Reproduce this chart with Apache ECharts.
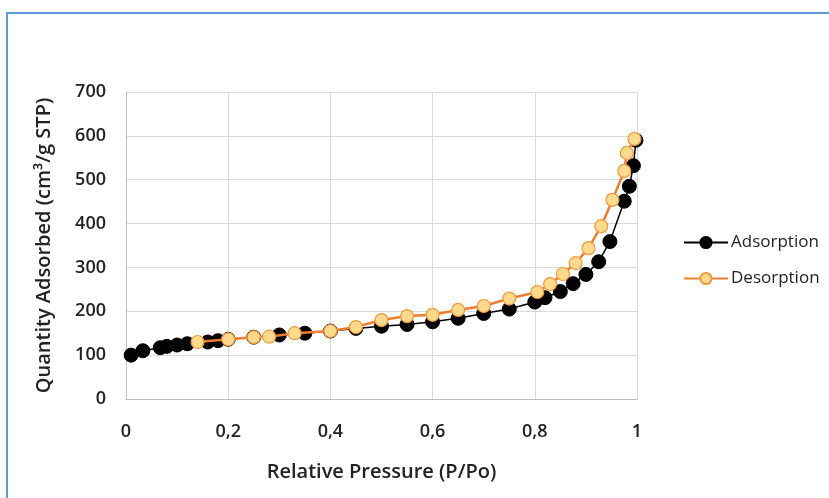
<!DOCTYPE html>
<html>
<head>
<meta charset="utf-8">
<script src="https://cdn.jsdelivr.net/npm/echarts@6/dist/echarts.min.js"></script>
<style>
  html, body { margin: 0; padding: 0; background: #fff; }
  #main { width: 829px; height: 498px; }
</style>
</head>
<body>
<div id="main"></div>
<script>
  // isotherm data
  const adsP = [0.01, 0.033, 0.067, 0.08, 0.1, 0.12, 0.16, 0.18, 0.2, 0.25, 0.3, 0.35, 0.4, 0.45, 0.5, 0.55, 0.6, 0.65, 0.7, 0.75, 0.8, 0.82, 0.85, 0.875, 0.9, 0.925, 0.947, 0.975, 0.985, 0.993, 0.998];
  const adsQ = [100, 110, 117, 120, 123, 126, 130, 133, 136, 141, 146, 150, 155, 161, 166, 170, 176, 184, 195, 205, 221, 231, 245, 263, 284, 313, 359, 451, 485, 532, 590];
  const desP = [0.995, 0.98, 0.975, 0.952, 0.93, 0.905, 0.88, 0.855, 0.83, 0.805, 0.75, 0.7, 0.65, 0.6, 0.55, 0.5, 0.45, 0.4, 0.33, 0.28, 0.25, 0.2, 0.14];
  const desQ = [593, 561, 520, 454, 394, 344, 310, 285, 262, 244, 229, 212, 203, 192, 189, 180, 164, 155, 150, 142, 141, 136, 130];
  const xTicks = ['0', '0,2', '0,4', '0,6', '0,8', '1'];

  const pairs = (xs, ys) => xs.map((x, i) => [x, ys[i]]);
  const font = 'Open Sans';

  let option = {
    animation: false,
    textStyle: { fontFamily: font },
    graphic: [
      {
        type: 'rect',
        shape: { x: 7, y: 13, width: 900, height: 600 },
        style: { fill: 'none', stroke: '#5B9BD5', lineWidth: 2 },
      },
    ],
    legend: {
      orient: 'vertical',
      left: 678,
      top: 229,
      itemGap: 19,
      itemWidth: 44,
      itemHeight: 14,
      textStyle: { fontFamily: font, fontSize: 17, color: '#222', padding: [0, 0, 0, -2] },
      data: ['Adsorption', 'Desorption'],
    },
    grid: {
      left: 126,
      right: 192,
      top: 92,
      bottom: 99,
    },
    xAxis: {
      type: 'value',
      min: 0,
      max: 1,
      interval: 0.2,
      name: 'Relative Pressure (P/Po)',
      nameLocation: 'middle',
      nameGap: 63,
      nameTextStyle: { fontFamily: font, fontSize: 20, fontWeight: 600, color: '#222' },
      axisLine: { lineStyle: { color: '#BFBFBF' } },
      axisTick: { show: false },
      axisLabel: {
        margin: 24,
        fontSize: 18,
        fontWeight: 600,
        color: '#222',
        formatter: (v) => xTicks[Math.round(v * 5)],
      },
      splitLine: { show: true, lineStyle: { color: '#D9D9D9' } },
    },
    yAxis: {
      type: 'value',
      min: 0,
      max: 700,
      interval: 100,
      name: 'Quantity Adsorbed (cm³/g STP)',
      nameLocation: 'middle',
      nameGap: 72,
      nameTextStyle: { fontFamily: font, fontSize: 20, fontWeight: 600, color: '#222' },
      axisLine: { show: true, lineStyle: { color: '#BFBFBF' } },
      axisTick: { show: false },
      axisLabel: { margin: 20, fontSize: 18, fontWeight: 600, color: '#222' },
      splitLine: { lineStyle: { color: '#D9D9D9' } },
    },
    series: [
      {
        name: 'Adsorption',
        type: 'line',
        data: pairs(adsP, adsQ),
        symbol: 'circle',
        symbolSize: 14,
        lineStyle: { color: '#000', width: 1.5 },
        itemStyle: { color: '#000', borderColor: '#000', borderWidth: 1 },
        z: 2,
      },
      {
        name: 'Desorption',
        type: 'line',
        data: pairs(desP, desQ),
        symbol: 'circle',
        symbolSize: 13,
        lineStyle: { color: '#ED7D31', width: 2.5 },
        itemStyle: { color: '#FFD98C', borderColor: '#EE9A40', borderWidth: 1.2 },
        z: 3,
      },
    ],
  };

  let chartDom = document.getElementById('main');
  let myChart = echarts.init(chartDom);
  myChart.setOption(option);
</script>
</body>
</html>
